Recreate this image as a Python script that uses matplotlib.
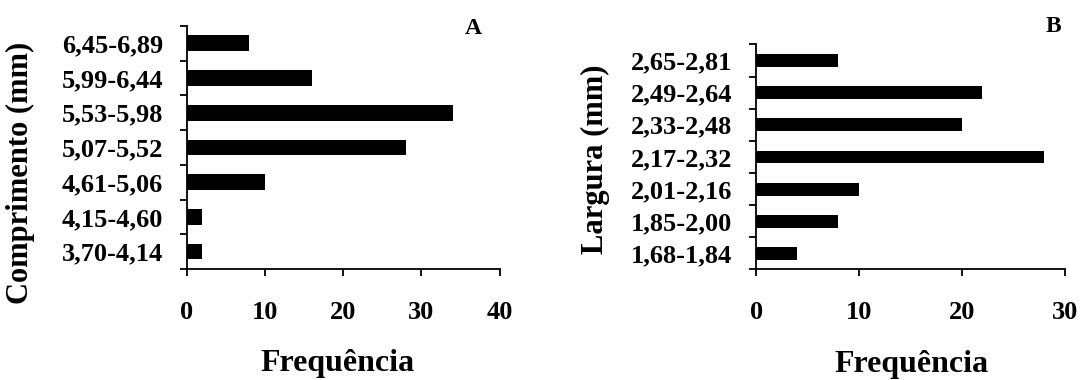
import numpy as np
import matplotlib.pyplot as plt
from matplotlib.ticker import FixedLocator

plt.rcParams['font.family'] = ['Liberation Serif', 'DejaVu Serif']
plt.rcParams['font.weight'] = 'bold'

# panel A: comprimento classes (bottom to top)
comp_classes = ["3,70-4,14", "4,15-4,60", "4,61-5,06", "5,07-5,52",
                "5,53-5,98", "5,99-6,44", "6,45-6,89"]
comp_freq = [2, 2, 10, 28, 34, 16, 8]

# panel B: largura classes (bottom to top)
larg_classes = ["1,68-1,84", "1,85-2,00", "2,01-2,16", "2,17-2,32",
                "2,33-2,48", "2,49-2,64", "2,65-2,81"]
larg_freq = [4, 8, 10, 28, 20, 22, 8]


def draw_panel(ax, classes, freq, xmax, ylabel, bar_h):
    y = np.arange(len(classes))
    ax.barh(y, freq, height=bar_h, color='black')
    ax.set_xlim(0, xmax)
    ax.set_ylim(-0.5, len(classes) - 0.5)
    ax.set_xticks(np.arange(0, xmax + 1, 10))
    # ticks between categories, labels centred on bars
    ax.yaxis.set_major_locator(FixedLocator(np.arange(-0.5, len(classes), 1.0)))
    ax.yaxis.set_major_formatter(plt.NullFormatter())
    ax.set_yticks(y, minor=True)
    ax.set_yticklabels(classes, minor=True, fontsize=19, fontweight='bold')
    ax.tick_params(axis='y', which='minor', length=0, pad=17)
    ax.tick_params(axis='y', which='major', length=5, width=1.3, direction='out')
    ax.tick_params(axis='x', length=5, width=1.3, direction='out', pad=18, labelsize=19)
    for lab in ax.get_xticklabels():
        lab.set_fontweight('bold')
    for s in ['top', 'right']:
        ax.spines[s].set_visible(False)
    for s in ['left', 'bottom']:
        ax.spines[s].set_linewidth(1.3)
    ax.set_xlabel("Frequência", fontsize=23, fontweight='bold')
    ax.set_ylabel(ylabel, fontsize=22, fontweight='bold')
    return ax


fig = plt.figure(figsize=(10.91, 3.80), dpi=100)
ax1 = fig.add_axes([0.171, 0.292, 0.287, 0.640])
ax2 = fig.add_axes([0.693, 0.291, 0.283, 0.592])

draw_panel(ax1, comp_classes, comp_freq, 40, "Comprimento (mm)", 0.45)
draw_panel(ax2, larg_classes, larg_freq, 30, "Largura (mm)", 0.40)

ax1.yaxis.set_label_coords(-0.484, 0.395)
ax2.yaxis.set_label_coords(-0.472, 0.49)
ax1.xaxis.set_label_coords(0.483, -0.33)
ax2.xaxis.set_label_coords(0.504, -0.357)

fig.text(473 / 1091, 1 - 29 / 380, "A", fontsize=17, fontweight='bold', ha='center', va='center')
fig.text(1053 / 1091, 1 - 27 / 380, "B", fontsize=17, fontweight='bold', ha='center', va='center')

fig.savefig("out.png", dpi=100)
